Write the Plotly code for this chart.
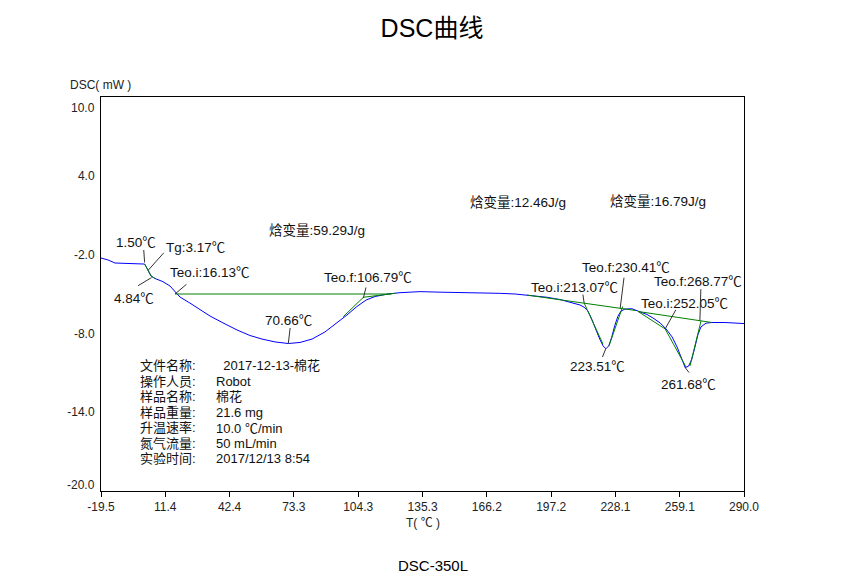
import plotly.graph_objects as go

# ---------------- data ----------------
temp = [-19.5, -16.1, -12.8, -7.9, -1.7, 1.5, 3.1, 4.6, 6.5, 10.3, 13.7, 16.1, 18.5, 23.3,
        27.2, 33.0, 40.2, 46.0, 52.2, 58.0, 64.3, 70.66, 76.3, 82.1, 88.3, 94.1, 98.9,
        103.7, 108.1, 112.4, 118.6, 124.4, 134.1, 143.7, 153.3, 162.9, 172.6, 179.8,
        185.5, 191.8, 195.2, 201.4, 207.7, 211.1, 213.0, 214.9, 216.8, 218.7, 220.6,
        222.2, 223.51, 224.9, 226.3, 227.8, 229.3, 230.8, 232.7, 236.0, 240.0, 243.3,
        246.2, 249.6, 252.5, 255.4, 257.8, 259.7, 261.68, 263.3, 264.8, 266.3, 267.8,
        269.3, 271.7, 274.6, 280.9, 290.0]
dsc = [-2.26, -2.41, -2.64, -2.68, -2.68, -2.72, -3.17, -3.63, -3.82, -4.06, -4.39, -4.85,
       -5.23, -5.69, -6.09, -6.68, -7.28, -7.74, -8.16, -8.43, -8.65, -8.77, -8.69, -8.43,
       -7.89, -7.21, -6.60, -5.95, -5.46, -5.19, -5.00, -4.90, -4.82, -4.86, -4.88, -4.92,
       -4.95, -5.00, -5.08, -5.18, -5.25, -5.42, -5.66, -5.84, -6.00, -6.30, -6.95, -7.75,
       -8.45, -8.95, -9.17, -8.95, -8.30, -7.40, -6.70, -6.30, -6.15, -6.12, -6.33, -6.56,
       -6.83, -7.20, -7.66, -8.27, -9.04, -9.80, -10.60, -10.50, -10.00, -9.10, -8.10,
       -7.50, -7.22, -7.17, -7.17, -7.25]

# glass transition segment (drawn green over the curve)
tg_temp = [1.5, 3.1, 4.6, 6.5]
tg_dsc = [-2.72, -3.17, -3.63, -3.82]

# baselines / tangents (None separates segments)
tan_temp = [16.13, 120.0, None,
            97.1, 106.79, 122.0, None,
            185.5, 238.0, None,
            213.07, 222.1, None,
            225.0, 231.6, None,
            239.0, 274.6, None,
            239.0, 252.05, 262.1, None,
            264.0, 269.3]
tan_dsc = [-5.00, -5.00, None,
           -6.73, -5.25, -4.95, None,
           -5.08, -6.26, None,
           -5.69, -8.81, None,
           -8.96, -5.95, None,
           -6.33, -7.17, None,
           -6.33, -7.66, -10.56, None,
           -10.48, -7.06]

# characteristic points
point_labels = ["1.50℃", "Tg:3.17℃", "4.84℃", "Teo.i:16.13℃", "70.66℃", "Teo.f:106.79℃",
                "Teo.i:213.07℃", "Teo.f:230.41℃", "Teo.i:252.05℃", "Teo.f:268.77℃",
                "223.51℃", "261.68℃"]
point_temp = [1.50, 3.17, 4.84, 16.13, 70.66, 106.79, 213.07, 230.41, 252.05, 268.77, 223.51, 261.68]
point_dsc = [-2.6, -3.2, -3.75, -5.0, -8.77, -5.3, -5.69, -6.08, -7.66, -7.03, -9.15, -10.6]

enthalpy_labels = ["焓变量:59.29J/g", "焓变量:12.46J/g", "焓变量:16.79J/g"]
enthalpy_temp = [60.3, 157.2, 224.5]
enthalpy_dsc = [-0.2, 2.0, 2.08]

info_keys = ["文件名称:", "操作人员:", "样品名称:", "样品重量:", "升温速率:", "氮气流量:", "实验时间:"]
info_values = ["\u00a0\u00a02017-12-13-棉花", "Robot", "棉花", "21.6 mg", "10.0 ℃/min", "50 mL/min",
               "2017/12/13 8:54"]

x_ticks = [-19.5, 11.4, 42.4, 73.3, 104.3, 135.3, 166.2, 197.2, 228.1, 259.1, 290.0]
x_tick_labels = ["-19.5", "11.4", "42.4", "73.3", "104.3", "135.3", "166.2", "197.2", "228.1", "259.1", "290.0"]
y_ticks = [10, 4, -2, -8, -14, -20]
y_tick_labels = ["10.0", "4.0", "-2.0", "-8.0", "-14.0", "-20.0"]

# ---------------- layout / style ----------------
FONT = "Liberation Sans, Arial, Noto Sans CJK SC, sans-serif"
CJK = "Noto Sans CJK SC"
TXT = "#111"


def cel(s):
    return s.replace("℃", '<span style="font-family:%s">℃</span>' % CJK)


# leader tail offsets and text centre offsets in pixels (screen: down positive)
leader_off = [(-1, -14), (17, -19), (-15, 9), (13, -11), (2, -17), (3, -12),
              (-1.5, -10), (4, -32), (11.5, -20.6), (1, -33), (-4, 10), (5, 6.5)]
text_off = [(-9, -21.5), (47, -24), (-17.6, 19.4), (35, -23), (0, -24.5), (4.6, -22),
            (-9.7, -17), (6, -42), (19.3, -27.2), (-2, -40.7), (-8, 16.5), (3, 15.5)]
# end tick labels of the y axis sit inside the frame in the reference (pixels, down positive)
end_label_down = {10: 11, -20: -6}

fig = go.Figure()
fig.add_trace(go.Scatter(x=temp, y=dsc, mode="lines", line=dict(color="#0000ff", width=1),
                         hoverinfo="skip"))
fig.add_trace(go.Scatter(x=tan_temp, y=tan_dsc, mode="lines", line=dict(color="#008000", width=1),
                         hoverinfo="skip", connectgaps=False))
fig.add_trace(go.Scatter(x=tg_temp, y=tg_dsc, mode="lines", line=dict(color="#008000", width=1),
                         hoverinfo="skip"))

annotations = []
for lab, t, v, (ax, ay), (dx, dy) in zip(point_labels, point_temp, point_dsc, leader_off, text_off):
    annotations.append(dict(x=t, y=v, xref="x", yref="y", text="", showarrow=True,
                            arrowhead=0, arrowwidth=1, arrowcolor="#333", ax=ax, ay=ay,
                            standoff=0, startstandoff=0))
    annotations.append(dict(x=t, y=v, xref="x", yref="y", text=cel(lab), showarrow=False,
                            xshift=dx, yshift=-dy, xanchor="center", yanchor="middle",
                            font=dict(family=FONT, size=13.5, color=TXT)))

for lab, t, v in zip(enthalpy_labels, enthalpy_temp, enthalpy_dsc):
    annotations.append(dict(x=t, y=v, xref="x", yref="y", text=lab, showarrow=False,
                            xanchor="left", yanchor="middle",
                            font=dict(family=FONT, size=13.5, color=TXT)))

for i, (k, val) in enumerate(zip(info_keys, info_values)):
    annotations.append(dict(x=-1.7, y=-10.48, xref="x", yref="y", text=k, showarrow=False,
                            xanchor="left", yanchor="middle", yshift=-15.5 * i,
                            font=dict(family=FONT, size=13, color=TXT)))
    annotations.append(dict(x=34.7, y=-10.48, xref="x", yref="y", text=cel(val), showarrow=False,
                            xanchor="left", yanchor="middle", yshift=-15.5 * i,
                            font=dict(family=FONT, size=13, color=TXT)))

# y tick labels (end ones shifted inward as in the reference)
ytext_axis = [("" if v in end_label_down else s) for v, s in zip(y_ticks, y_tick_labels)]
for v, s in zip(y_ticks, y_tick_labels):
    if v in end_label_down:
        annotations.append(dict(x=0, y=v, xref="paper", yref="y", text=s, showarrow=False,
                                xanchor="right", yanchor="middle", xshift=-4,
                                yshift=-end_label_down[v],
                                font=dict(family=FONT, size=12, color="#222")))

# axis captions and footer
annotations.append(dict(x=-0.0513, y=1.030, xref="paper", yref="paper", text="DSC( mW )",
                        showarrow=False, xanchor="left", yanchor="middle",
                        font=dict(family=FONT, size=12, color="#222")))
annotations.append(dict(x=0.50, y=-0.081, xref="paper", yref="paper", text="T( ℃ )",
                        showarrow=False, xanchor="center", yanchor="middle",
                        font=dict(family=FONT, size=12, color="#222")))
annotations.append(dict(x=0.516, y=-0.188, xref="paper", yref="paper", text="DSC-350L",
                        showarrow=False, xanchor="center", yanchor="middle",
                        font=dict(family=FONT, size=15, color="#000")))

fig.update_layout(
    width=833, height=578, autosize=False,
    margin=dict(l=93, r=97, t=89, b=95),
    paper_bgcolor="white", plot_bgcolor="white",
    showlegend=False,
    title=dict(text="DSC曲线", x=0.509, y=0.965, xanchor="center", yanchor="middle",
               font=dict(family=FONT, size=25, color="#000")),
    annotations=annotations,
    xaxis=dict(range=[-19.5, 290.0], tickvals=x_ticks, ticktext=x_tick_labels,
               ticks="outside", ticklen=5, tickcolor="#000", showline=True, mirror=True,
               linecolor="#000", linewidth=1, showgrid=False, zeroline=False, automargin=False,
               tickfont=dict(family=FONT, size=12, color="#222")),
    yaxis=dict(range=[-20, 10], tickvals=y_ticks, ticktext=ytext_axis,
               ticks="", showline=True, mirror=True, linecolor="#000", linewidth=1,
               showgrid=False, zeroline=False, ticklabelstandoff=3, automargin=False,
               tickfont=dict(family=FONT, size=12, color="#222")),
)

fig.write_html("out.html")
